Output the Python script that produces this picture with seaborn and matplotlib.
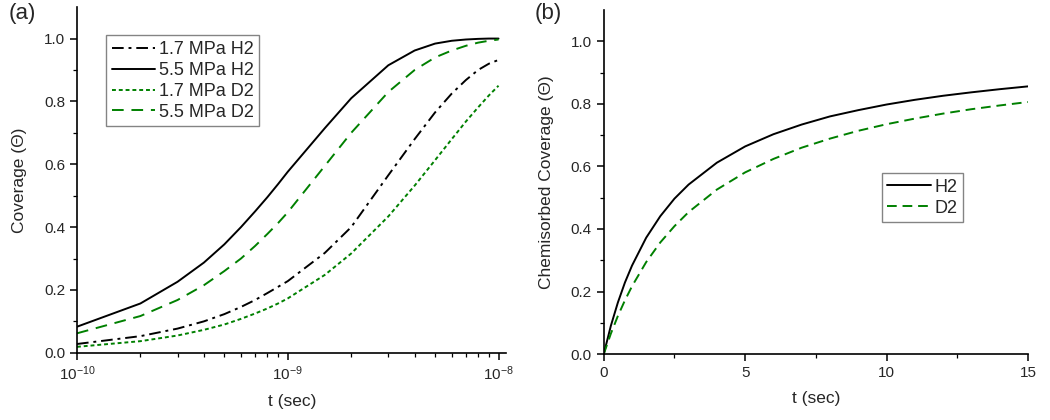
import numpy as np
import pandas as pd
import seaborn as sns
import matplotlib.pyplot as plt
from matplotlib.ticker import FixedLocator, NullFormatter


sns.set_theme(style='ticks')
plt.rcParams['font.family'] = ['Liberation Sans', 'DejaVu Sans']
plt.rcParams['mathtext.fontset'] = 'custom'
plt.rcParams['mathtext.rm'] = 'Liberation Sans'
plt.rcParams['mathtext.it'] = 'Liberation Sans:italic'

#
# (a) coverage vs time, log scale
t_a = [1e-10, 2e-10, 3e-10, 4e-10, 5e-10, 6e-10, 7e-10, 8e-10, 9e-10,
       1e-9, 1.5e-9, 2e-9, 3e-9, 4e-9, 5e-9, 6e-9, 7e-9, 8e-9, 9e-9, 1e-8]
h2_17 = [0.028, 0.053, 0.077, 0.100, 0.123, 0.146, 0.168, 0.190, 0.210,
         0.228, 0.318, 0.400, 0.565, 0.680, 0.765, 0.825, 0.868, 0.900, 0.920, 0.932]
h2_55 = [0.083, 0.157, 0.226, 0.287, 0.345, 0.400, 0.450, 0.495, 0.537,
         0.576, 0.715, 0.810, 0.915, 0.962, 0.984, 0.993, 0.997, 0.999, 1.000, 1.000]
d2_17 = [0.019, 0.037, 0.055, 0.073, 0.090, 0.108, 0.125, 0.141, 0.157,
         0.173, 0.248, 0.316, 0.434, 0.532, 0.613, 0.680, 0.736, 0.781, 0.819, 0.850]
d2_55 = [0.062, 0.117, 0.168, 0.215, 0.260, 0.300, 0.340, 0.378, 0.413,
         0.447, 0.595, 0.700, 0.830, 0.900, 0.940, 0.962, 0.977, 0.987, 0.993, 0.997]

#
# (b) chemisorbed coverage vs time
t_b = [0, 0.25, 0.5, 0.75, 1, 1.5, 2, 2.5, 3, 4, 5, 6, 7, 8, 9, 10, 11, 12, 13, 14, 15]
h2_b = [0, 0.090, 0.165, 0.229, 0.283, 0.372, 0.441, 0.497, 0.542, 0.612, 0.664,
        0.703, 0.734, 0.760, 0.780, 0.798, 0.813, 0.826, 0.837, 0.847, 0.856]
d2_b = [0, 0.065, 0.122, 0.172, 0.217, 0.294, 0.357, 0.409, 0.454, 0.526, 0.581,
        0.624, 0.660, 0.689, 0.714, 0.735, 0.753, 0.769, 0.783, 0.795, 0.806]

green = '#008000'
y_major = [0.0, 0.2, 0.4, 0.6, 0.8, 1.0]
y_minor = [0.1, 0.3, 0.5, 0.7, 0.9]

fig = plt.figure(figsize=(10.5, 4.2), dpi=100)
ax1 = fig.add_axes([0.0733, 0.16, 0.409, 0.823])
ax2 = fig.add_axes([0.575, 0.157, 0.404, 0.819])

series_a = [
    (h2_17, '1.7 MPa H2', 'black', (0, (6, 2.5, 1.5, 2.5))),
    (h2_55, '5.5 MPa H2', 'black', '-'),
    (d2_17, '1.7 MPa D2', green, (0, (2, 1.5))),
    (d2_55, '5.5 MPa D2', green, (0, (6, 4))),
]
for y, lab, col, ls in series_a:
    sns.lineplot(x=t_a, y=y, ax=ax1, color=col, linestyle=ls, lw=1.4, label=lab)

ax1.set_xscale('log')
ax1.set_xlim(1e-10, 1.09e-8)
ax1.set_ylim(0, 1.1)
ax1.xaxis.set_major_locator(FixedLocator([1e-10, 1e-9, 1e-8]))
minors = [m * d for d in (1e-10, 1e-9) for m in range(2, 10)]
ax1.xaxis.set_minor_locator(FixedLocator(minors))
ax1.xaxis.set_minor_formatter(NullFormatter())
ax1.set_xlabel('t (sec)', fontsize=12.5, labelpad=8)
ax1.set_ylabel('Coverage (Θ)', fontsize=12.5, labelpad=12)
ax1.legend(loc='upper left', bbox_to_anchor=(0.068, 0.918), fontsize=13,
           frameon=True, fancybox=False, edgecolor='#666666', handlelength=2.4,
           handletextpad=0.2, borderpad=0.3, labelspacing=0.22, borderaxespad=0)

sns.lineplot(x=t_b, y=h2_b, ax=ax2, color='black', linestyle='-', lw=1.4, label='H2')
sns.lineplot(x=t_b, y=d2_b, ax=ax2, color=green, linestyle=(0, (5, 3)), lw=1.4, label='D2')
ax2.set_xlim(0, 15)
ax2.set_ylim(0, 1.1)
ax2.xaxis.set_major_locator(FixedLocator([0, 5, 10, 15]))
ax2.xaxis.set_minor_locator(FixedLocator([2.5, 7.5, 12.5]))
ax2.set_xlabel('t (sec)', fontsize=12.5, labelpad=8)
ax2.set_ylabel('Chemisorbed Coverage (Θ)', fontsize=12.5, labelpad=12)
ax2.legend(loc='upper left', bbox_to_anchor=(0.656, 0.526), fontsize=13,
           frameon=True, fancybox=False, edgecolor='#666666', handlelength=2.4,
           handletextpad=0.2, borderpad=0.3, labelspacing=0.22, borderaxespad=0)

for ax in (ax1, ax2):
    sns.despine(ax=ax)
    for sp in ('left', 'bottom'):
        ax.spines[sp].set_linewidth(1.2)
        ax.spines[sp].set_color('black')
    ax.yaxis.set_major_locator(FixedLocator(y_major))
    ax.yaxis.set_minor_locator(FixedLocator(y_minor))
    ax.set_yticklabels([f'{v:.1f}' for v in y_major])
    ax.tick_params(which='major', direction='out', length=5, width=1.1,
                   labelsize=11, color='black')
    ax.tick_params(which='minor', direction='out', length=3, width=0.9, color='black')

fig.text(0.008, 0.955, '(a)', fontsize=16)
fig.text(0.509, 0.955, '(b)', fontsize=16)

fig.savefig('out.png', dpi=100)
